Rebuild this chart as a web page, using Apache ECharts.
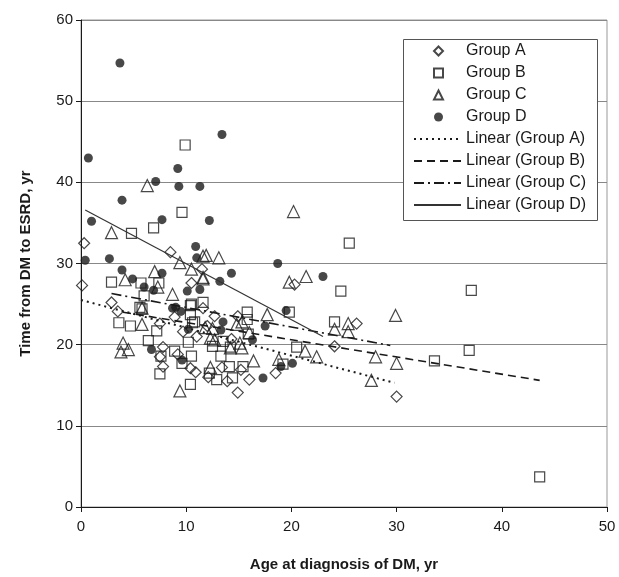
<!DOCTYPE html>
<html>
<head>
<meta charset="utf-8">
<script src="https://cdn.jsdelivr.net/npm/echarts@6/dist/echarts.min.js"></script>
<style>
  html, body { margin: 0; padding: 0; background: #fff; }
  #chart { width: 619px; height: 577px; }
</style>
</head>
<body>
<div id="chart"></div>
<script>
// ---- data ----
const groupA = [
  [0.3, 32.5], [0.1, 27.3], [8.5, 31.4], [11.5, 29.3], [10.5, 27.6], [2.9, 25.2], [3.5, 24.1],
  [8.9, 23.4], [7.5, 22.6], [9.7, 21.6], [11.0, 21.0], [7.8, 19.7], [7.5, 18.5], [9.2, 18.8],
  [7.8, 17.3], [10.4, 17.1], [10.9, 16.6], [11.6, 24.5], [14.9, 23.5], [12.7, 23.5], [14.3, 20.7],
  [13.4, 17.2], [12.1, 16.0], [13.9, 15.5], [16.0, 15.7], [14.9, 14.1], [18.5, 16.5], [20.3, 27.4],
  [26.2, 22.6], [24.1, 19.8], [30.0, 13.6], [15.2, 16.9], [12.0, 22.3]
];
const groupB = [
  [9.9, 44.6], [9.6, 36.3], [6.9, 34.4], [4.8, 33.7], [2.9, 27.7], [5.7, 27.6], [7.4, 27.6],
  [6.0, 26.0], [10.4, 24.8], [5.6, 24.6], [5.8, 24.4], [10.4, 23.7], [3.6, 22.7], [4.7, 22.3],
  [10.6, 22.7], [7.2, 21.7], [6.4, 20.5], [10.2, 20.3], [8.9, 19.2], [10.5, 18.6], [9.6, 17.7],
  [7.5, 16.4], [10.4, 15.1], [11.6, 25.2], [10.5, 25.0], [15.8, 24.0], [19.8, 24.0], [15.8, 23.1],
  [10.8, 22.8], [13.5, 20.4], [12.5, 19.8], [13.3, 18.6], [20.5, 19.7], [12.2, 16.5], [14.1, 17.3],
  [15.4, 17.3], [19.2, 17.6], [12.9, 15.7], [14.4, 15.9], [25.5, 32.5], [24.7, 26.6], [24.1, 22.8],
  [33.6, 18.0], [37.1, 26.7], [36.9, 19.3], [43.6, 3.7], [15.9, 21.3], [14.2, 19.7], [7.6, 18.6]
];
const groupC = [
  [6.3, 39.6], [2.9, 33.8], [9.4, 30.1], [11.6, 30.9], [10.5, 29.3], [7.0, 29.0], [4.2, 28.0],
  [11.6, 28.1], [7.3, 27.1], [8.7, 26.2], [5.8, 22.5], [5.8, 24.5], [4.5, 19.4], [4.0, 20.2],
  [3.8, 19.1], [9.4, 14.3], [20.2, 36.4], [11.9, 31.0], [13.1, 30.7], [11.6, 28.3], [19.8, 27.7],
  [21.4, 28.4], [17.7, 23.7], [14.8, 22.5], [15.3, 22.8], [11.8, 22.1], [12.5, 22.0], [16.0, 21.5],
  [12.3, 20.8], [12.7, 20.6], [15.1, 20.2], [14.2, 19.6], [15.3, 19.6], [16.4, 18.0], [21.3, 19.2],
  [22.4, 18.5], [12.3, 17.2], [18.8, 18.2], [29.9, 23.6], [24.1, 21.9], [25.4, 22.6], [25.4, 21.6],
  [28.0, 18.5], [30.0, 17.7], [27.6, 15.6]
];
const groupD = [
  [3.7, 54.7], [0.7, 43.0], [9.2, 41.7], [7.1, 40.1], [9.3, 39.5], [11.3, 39.5], [3.9, 37.8],
  [1.0, 35.2], [7.7, 35.4], [10.9, 32.1], [11.0, 30.7], [0.4, 30.4], [2.7, 30.6], [3.9, 29.2],
  [7.7, 28.8], [4.9, 28.1], [6.0, 27.1], [6.9, 26.7], [10.1, 26.6], [11.3, 26.8], [9.0, 24.6],
  [8.7, 24.5], [9.5, 24.1], [10.2, 21.9], [6.7, 19.4], [9.6, 18.1], [13.4, 45.9], [12.2, 35.3],
  [18.7, 30.0], [14.3, 28.8], [13.2, 27.8], [19.5, 24.2], [13.5, 22.8], [13.3, 21.8], [17.5, 22.3],
  [16.3, 20.6], [19.0, 17.3], [20.1, 17.7], [17.3, 15.9], [23.0, 28.4]
];

// trend line end points (Linear fits as drawn)
const trendA = [[0, 25.5], [29.8, 15.3]];
const trendB = [[4.0, 24.0], [43.6, 15.6]];
const trendC = [[2.9, 26.3], [29.4, 19.9]];
const trendD = [[0.4, 36.6], [23.0, 21.0]];

const pointNames = ['Group A', 'Group B', 'Group C', 'Group D'];
const lineNames = ['Linear (Group A)', 'Linear (Group B)', 'Linear (Group C)', 'Linear (Group D)'];

const xTicks = [0, 50, 10];   // min, max, step
const yTicks = [0, 60, 10];

const FONT = 'Liberation Sans, Arial, Helvetica, sans-serif';
const INK = '#1a1a1a';

const hollow = { color: 'rgba(0,0,0,0)', borderColor: INK, borderWidth: 1.2 };

function scatter(name, data, symbol, size, style) {
  return { type: 'scatter', name: name, data: data, symbol: symbol, symbolSize: size,
    itemStyle: style, emphasis: { disabled: true }, z: 3 };
}
function trend(name, data, dash, width, color) {
  return { type: 'line', name: name, data: data, symbol: 'none', silent: true,
    lineStyle: { color: color, width: width, type: dash }, itemStyle: { color: color }, z: 4 };
}

const legendText = { fontSize: 16, color: INK, lineHeight: 16, fontFamily: FONT };

const chart = echarts.init(document.getElementById('chart'));
chart.setOption({
  animation: false,
  textStyle: { fontFamily: FONT },
  grid: { left: 81, right: 12, top: 20, bottom: 69, show: true, borderColor: '#999', borderWidth: 1 },
  graphic: [{
    type: 'rect', left: 403, top: 39, z: 90,
    shape: { width: 194, height: 181 },
    style: { fill: '#fff', stroke: '#555', lineWidth: 1 }
  }],
  legend: [{
    orient: 'vertical', left: 433, top: 43, padding: 0, z: 100,
    itemWidth: 9, itemHeight: 9, itemGap: 6,
    textStyle: Object.assign({ padding: [0, 0, 0, 18] }, legendText),
    data: pointNames
  }, {
    orient: 'vertical', left: 413, top: 131, padding: 0, z: 100,
    itemWidth: 47, itemHeight: 10, itemGap: 6,
    textStyle: legendText,
    data: lineNames.map(n => ({ name: n, itemStyle: { opacity: 0 } }))
  }],
  xAxis: {
    type: 'value', min: xTicks[0], max: xTicks[1], interval: xTicks[2],
    name: 'Age at diagnosis of DM, yr', nameLocation: 'middle', nameGap: 50,
    nameTextStyle: { fontSize: 15, fontWeight: 'bold', color: INK },
    axisLine: { lineStyle: { color: INK, width: 1 } },
    axisTick: { show: true, length: 5, lineStyle: { color: INK } },
    axisLabel: { fontSize: 15, color: INK, margin: 12 },
    splitLine: { show: false }
  },
  yAxis: {
    type: 'value', min: yTicks[0], max: yTicks[1], interval: yTicks[2],
    name: 'Time from DM to ESRD, yr', nameLocation: 'middle', nameGap: 48,
    nameTextStyle: { fontSize: 15, fontWeight: 'bold', color: INK },
    axisLine: { show: true, lineStyle: { color: INK, width: 1 } },
    axisTick: { show: true, length: 5, lineStyle: { color: INK } },
    axisLabel: { fontSize: 15, color: INK, margin: 8 },
    splitLine: { lineStyle: { color: '#888', width: 1 } }
  },
  series: [
    scatter(pointNames[0], groupA, 'diamond', 11, hollow),
    scatter(pointNames[1], groupB, 'rect', 10, hollow),
    scatter(pointNames[2], groupC, 'triangle', 12, hollow),
    scatter(pointNames[3], groupD, 'circle', 9, { color: INK }),
    trend(lineNames[0], trendA, [2, 4], 2, INK),
    trend(lineNames[1], trendB, [8, 5], 1.6, INK),
    trend(lineNames[2], trendC, [10, 4, 2, 4], 1.6, INK),
    trend(lineNames[3], trendD, 'solid', 1.2, '#333')
  ]
});
</script>
</body>
</html>
